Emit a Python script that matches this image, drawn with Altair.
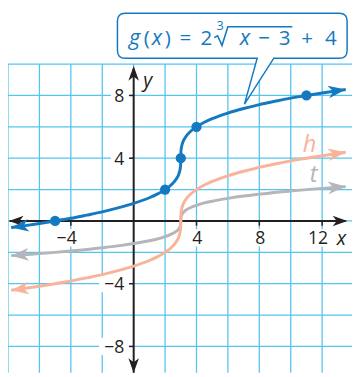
import math
import altair as alt
import pandas as pd

# ---------------- data ----------------
x_vals = [-7.8, -7, -6, -5, -4, -3, -2, -1, 0, 1, 1.5, 2, 2.4, 2.7, 2.9, 2.97, 2.99, 3,
          3.01, 3.03, 3.1, 3.3, 3.6, 4, 4.5, 5, 6, 7, 8, 9, 10, 11, 12, 13.5]
g_vals = [-0.42, -0.31, -0.16, 0.0, 0.17, 0.37, 0.58, 0.83, 1.12, 1.48, 1.71, 2.0, 2.31, 2.66,
          3.07, 3.38, 3.57, 4.0, 4.43, 4.62, 4.93, 5.34, 5.69, 6.0, 6.29, 6.52, 6.88, 7.17,
          7.42, 7.63, 7.83, 8.0, 8.16, 8.38]
h_vals = [-4.42, -4.31, -4.16, -4.0, -3.83, -3.63, -3.42, -3.17, -2.88, -2.52, -2.29, -2.0,
          -1.69, -1.34, -0.93, -0.62, -0.43, 0.0, 0.43, 0.62, 0.93, 1.34, 1.69, 2.0, 2.29,
          2.52, 2.88, 3.17, 3.42, 3.63, 3.83, 4.0, 4.16, 4.38]
t_vals = [-2.21, -2.15, -2.08, -2.0, -1.91, -1.82, -1.71, -1.59, -1.44, -1.26, -1.15, -1.0,
          -0.84, -0.67, -0.46, -0.31, -0.22, 0.0, 0.22, 0.31, 0.46, 0.67, 0.84, 1.0, 1.15,
          1.26, 1.44, 1.59, 1.71, 1.82, 1.91, 2.0, 2.08, 2.19]
g_point_x = [-5, 2, 3, 4, 11]
g_point_y = [0, 2, 4, 6, 8]

x_ticks = [-4, 4, 8, 12]
x_tick_labels = ["−4", "4", "8", "12"]
y_ticks = [8, 4, -4, -8]
y_tick_labels = ["8", "4", "−4", "−8"]
grid_x = list(range(-8, 15, 2))
grid_y = list(range(-10, 11, 2))

curve_names = ["h", "t"]
curve_name_x = [11.2, 11.45]
curve_name_y = [4.37, 2.49]

# callout formula, glyph by glyph
eq_text = ["g", "(", "x", ")", "=", "2", "x", "−", "3", "+", "4"]
eq_x = [0.056, 0.834, 1.487, 2.171, 3.29, 4.63, 7.09, 8.30, 9.61, 11.04, 12.56]
eq_italic = [True, False, True, False, False, False, True, False, False, False, False]
eq_y = 11.21
radical_x = [5.127, 5.344, 5.624, 5.997, 10.104]
radical_y = [11.69, 11.81, 11.19, 12.38, 12.38]

# ---------------- look ----------------
BLUE = "#1479c0"
SALMON = "#f8b39a"
GRAY = "#b4b6b9"
GRID = "#55c4ef"
INK = "#231f20"
FONT = "Open Sans"

W, H = 352, 369
X_DOM = [-8.0, 13.9]
Y_DOM = [-9.68, 13.31]
PX_X = W / (X_DOM[1] - X_DOM[0])
PX_Y = H / (Y_DOM[1] - Y_DOM[0])

XS = alt.Scale(domain=X_DOM, nice=False, zero=False)
YS = alt.Scale(domain=Y_DOM, nice=False, zero=False)


def X(f):
    return alt.X(f, type="quantitative", scale=XS, axis=None)


def Y(f):
    return alt.Y(f, type="quantitative", scale=YS, axis=None)


ARROW = "M0,0 L-1,-0.36 L-0.72,0 L-1,0.36 Z"


def end_angle(x0, y0, x1, y1):
    a = -math.degrees(math.atan2((y1 - y0) * PX_Y, (x1 - x0) * PX_X))
    return a % 360


layers = []

# grid
gv = pd.DataFrame({"x": grid_x, "y0": min(grid_y), "y1": max(grid_y)})
gh = pd.DataFrame({"y": grid_y, "x0": min(grid_x), "x1": max(grid_x)})
layers.append(alt.Chart(gv).mark_rule(color=GRID, strokeWidth=1.3, clip=True)
              .encode(x=X("x"), y=Y("y0"), y2=alt.Y2("y1")))
layers.append(alt.Chart(gh).mark_rule(color=GRID, strokeWidth=1.3, clip=True)
              .encode(y=Y("y"), x=X("x0"), x2=alt.X2("x1")))

# white label backgrounds
yl = pd.DataFrame({"v": y_ticks, "label": y_tick_labels})
xl = pd.DataFrame({"v": x_ticks, "label": x_tick_labels})
layers.append(alt.Chart(yl).transform_calculate(
    x0="-0.7 - 0.75*length(datum.label)", x1="-0.25",
    y0="datum.v - 0.55", y1="datum.v + 0.55").mark_rect(color="white", clip=True)
    .encode(x=X("x0"), x2=alt.X2("x1"), y=Y("y0"), y2=alt.Y2("y1")))
layers.append(alt.Chart(xl).transform_calculate(
    x0="datum.v + 0.3 - 0.75*length(datum.label)", x1="datum.v + 0.55",
    y0="-1.63", y1="-0.53").mark_rect(color="white", clip=True)
    .encode(x=X("x0"), x2=alt.X2("x1"), y=Y("y0"), y2=alt.Y2("y1")))

# axes
ax = pd.DataFrame({"x0": [-7.9], "x1": [13.5], "y": [0]})
ay = pd.DataFrame({"y0": [-9.68], "y1": [9.7], "x": [0]})
layers.append(alt.Chart(ax).mark_rule(color=INK, strokeWidth=2)
              .encode(x=X("x0"), x2=alt.X2("x1"), y=Y("y")))
layers.append(alt.Chart(ay).mark_rule(color=INK, strokeWidth=2)
              .encode(y=Y("y0"), y2=alt.Y2("y1"), x=X("x")))
# axis ticks
layers.append(alt.Chart(yl).transform_calculate(x0="-0.3", x1="0").mark_rule(color=INK, strokeWidth=1.5)
              .encode(x=X("x0"), x2=alt.X2("x1"), y=Y("v")))
layers.append(alt.Chart(xl).transform_calculate(y0="-0.3", y1="0").mark_rule(color=INK, strokeWidth=1.5)
              .encode(y=Y("y0"), y2=alt.Y2("y1"), x=X("v")))
# axis arrowheads
for (px, py, ang) in [(-7.94, 0, 180), (13.6, 0, 0), (0, 9.88, 270), (0, -9.68, 90)]:
    layers.append(alt.Chart(pd.DataFrame({"x": [px], "y": [py]}))
                  .mark_point(shape=ARROW, filled=True, color=INK, opacity=1, size=900,
                              strokeWidth=0, angle=ang)
                  .encode(x=X("x"), y=Y("y")))

# curves
for vals, col in [(t_vals, GRAY), (h_vals, SALMON), (g_vals, BLUE)]:
    df = pd.DataFrame({"x": x_vals, "y": vals})
    layers.append(alt.Chart(df).mark_line(color=col, strokeWidth=3, interpolate="monotone",
                                          strokeCap="butt", clip=True)
                  .encode(x=X("x"), y=Y("y")))
    a_left = end_angle(x_vals[1], vals[1], x_vals[0], vals[0])
    a_right = end_angle(x_vals[-2], vals[-2], x_vals[-1], vals[-1])
    for i, ang in [(0, a_left), (-1, a_right)]:
        layers.append(alt.Chart(pd.DataFrame({"x": [x_vals[i]], "y": [vals[i]]}))
                      .mark_point(shape=ARROW, filled=True, color=col, opacity=1, size=1296,
                                  strokeWidth=0, angle=round(ang, 1))
                      .encode(x=X("x"), y=Y("y")))

# points on g
layers.append(alt.Chart(pd.DataFrame({"x": g_point_x, "y": g_point_y}))
              .mark_point(shape="circle", filled=True, color=BLUE, opacity=1, size=110)
              .encode(x=X("x"), y=Y("y")))

# tick labels
layers.append(alt.Chart(yl).transform_calculate(zero="0")
              .mark_text(font=FONT, fontSize=18, color=INK, align="right", baseline="alphabetic",
                         dx=-9.6, dy=6.5)
              .encode(x=X("zero"), y=Y("v"), text="label:N"))
layers.append(alt.Chart(xl).transform_calculate(row="-1.46")
              .mark_text(font=FONT, fontSize=18, color=INK, align="right", baseline="alphabetic",
                         dx=6)
              .encode(x=X("v"), y=Y("row"), text="label:N"))
# axis names
layers.append(alt.Chart(pd.DataFrame({"x": [13.22, 0.896], "y": [-1.15, 8.94], "s": ["x", "y"]}))
              .mark_text(font=FONT, fontSize=20, fontStyle="italic", color=INK,
                         align="center", baseline="middle")
              .encode(x=X("x"), y=Y("y"), text="s:N"))
# curve names
for name, cx, cy, col in zip(curve_names, curve_name_x, curve_name_y, [SALMON, GRAY]):
    layers.append(alt.Chart(pd.DataFrame({"x": [cx], "y": [cy], "s": [name]}))
                  .mark_text(font=FONT, fontSize=24, fontStyle="italic", color=col,
                             align="center", baseline="alphabetic")
                  .encode(x=X("x"), y=Y("y"), text="s:N"))

# callout bubble
S = 120.0


def f(v):
    return f"{v / S:.5f}"


callout_path = (
    f"M{f(-109.5)},{f(-23)} H{f(109.5)} Q{f(117.5)},{f(-23)} {f(117.5)},{f(-15)} "
    f"V{f(15)} Q{f(117.5)},{f(23)} {f(109.5)},{f(23)} H{f(42.5)} L{f(12.5)},{f(70)} "
    f"L{f(25.5)},{f(23)} H{f(-109.5)} Q{f(-117.5)},{f(23)} {f(-117.5)},{f(15)} "
    f"V{f(-15)} Q{f(-117.5)},{f(-23)} {f(-109.5)},{f(-23)} Z"
)
layers.append(alt.Chart(pd.DataFrame({"x": [6.278], "y": [11.81]}))
              .mark_point(shape=callout_path, filled=True, fill="white", stroke=BLUE,
                          strokeWidth=1.5, opacity=1, fillOpacity=1, size=(2 * S) ** 2)
              .encode(x=X("x"), y=Y("y")))

eq = pd.DataFrame({"x": eq_x, "s": eq_text, "it": eq_italic, "y": eq_y})
layers.append(alt.Chart(eq[eq["it"]]).mark_text(font=FONT, fontSize=22, fontStyle="italic",
                                                 color=BLUE, align="center", baseline="alphabetic")
              .encode(x=X("x"), y=Y("y"), text="s:N"))
layers.append(alt.Chart(eq[~eq["it"]]).mark_text(font=FONT, fontSize=21, color=BLUE,
                                                  align="center", baseline="alphabetic")
              .encode(x=X("x"), y=Y("y"), text="s:N"))
layers.append(alt.Chart(pd.DataFrame({"x": [5.50], "y": [12.2], "s": ["3"]}))
              .mark_text(font=FONT, fontSize=13, color=BLUE, align="center", baseline="alphabetic")
              .encode(x=X("x"), y=Y("y"), text="s:N"))
rad = pd.DataFrame({"x": radical_x, "y": radical_y, "o": list(range(len(radical_x)))})
layers.append(alt.Chart(rad).mark_line(color=BLUE, strokeWidth=1.6, strokeJoin="miter")
              .encode(x=X("x"), y=Y("y"), order="o:Q"))

chart = alt.layer(*layers).properties(
    width=W, height=H, padding=0, autosize=alt.AutoSizeParams(type="none")
).configure_view(strokeWidth=0)

chart.save("out.html", embed_options={"renderer": "svg", "actions": False})
